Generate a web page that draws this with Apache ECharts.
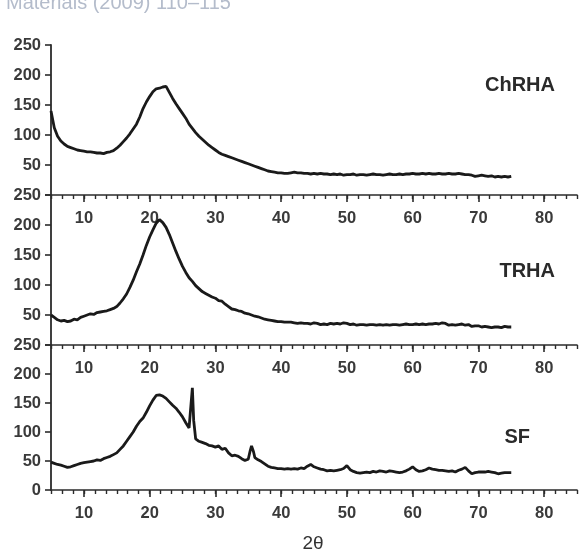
<!DOCTYPE html>
<html>
<head>
<meta charset="utf-8">
<script src="https://cdn.jsdelivr.net/npm/echarts@6/dist/echarts.min.js"></script>
<style>
html,body{margin:0;padding:0;background:#fff;}
#chart{width:580px;height:554px;}
</style>
</head>
<body>
<div id="chart"></div>
<script>
// ---- Data ----
var angleStd = [];
(function(){ for (var i = 0; i <= 140; i++) angleStd.push(5 + i * 0.5); })();

var chrhaCounts = [
140,112,98,90,85,81,79,77,75,74,73,72,72,71,70,70,69,71,72,74,
78,83,89,95,102,110,118,130,144,155,164,172,177,178,180,181,171,161,152,144,
136,128,118,111,104,98,93,88,83,79,75,71,68,66,64,62,60,58,56,54,
52,50,48,46,44,42,40,39,38,37,37,36,36,37,38,37,37,36,36,35,
36,35,36,35,35,34,35,34,35,33,34,34,35,33,34,34,33,34,35,34,
34,33,34,35,34,34,35,34,35,35,36,35,35,36,35,36,35,35,36,35,
35,36,35,35,36,35,34,34,33,31,32,33,32,31,32,30,31,30,31,30,
31
];

var trhaCounts = [
50,46,42,40,41,39,40,43,42,46,48,50,52,51,54,55,56,57,59,61,
64,70,77,85,96,108,122,135,150,166,180,192,203,209,204,196,184,170,156,143,
131,121,112,106,99,94,89,86,83,80,78,74,73,68,64,60,59,57,56,53,
52,50,48,47,45,43,42,41,40,39,39,38,38,38,37,36,37,36,36,35,
37,36,34,35,34,36,35,36,35,37,36,34,35,33,34,34,33,34,34,33,
34,33,34,33,34,34,33,34,35,34,34,35,34,35,34,35,35,36,35,37,
36,33,34,33,34,35,33,34,31,32,32,30,31,30,29,30,30,29,31,30,
30
];

var sfAngle = [
5,5.5,6,6.5,7,7.5,8,8.5,9,9.5,10,10.5,11,11.5,12,12.5,13,13.5,14,14.5,
15,15.5,16,16.5,17,17.5,18,18.5,19,19.5,20,20.5,21,21.5,22,22.5,23,23.5,24,24.5,
25,25.5,26,26.3,26.5,26.7,27,27.5,28,28.5,29,29.5,30,30.5,31,31.5,32,32.5,33,33.5,
34,34.5,35,35.3,35.5,35.8,36,36.5,37,37.5,38,38.5,39,39.5,40,40.5,41,41.5,42,42.5,
43,43.5,44,44.5,45,45.5,46,46.5,47,47.5,48,48.5,49,49.5,50,50.5,51,51.5,52,52.5,
53,53.5,54,54.5,55,55.5,56,56.5,57,57.5,58,58.5,59,59.5,60,60.5,61,61.5,62,62.5,
63,63.5,64,64.5,65,65.5,66,66.5,67,67.5,68,68.5,69,69.5,70,70.5,71,71.5,72,72.5,
73,73.5,74,74.5,75
];
var sfCounts = [
48,46,44,43,41,39,40,42,44,46,47,48,49,50,52,51,54,56,58,61,
64,70,76,84,92,100,110,118,124,134,145,155,163,164,162,158,152,146,141,134,
126,116,107,110,176,120,88,84,82,80,77,76,74,76,70,72,64,59,60,58,
54,51,53,68,76,66,56,52,49,45,41,39,38,37,37,36,37,36,37,36,
38,37,41,44,40,38,36,35,33,34,33,34,35,37,42,35,32,30,29,30,
31,30,32,31,33,32,31,33,32,31,30,31,33,36,40,35,32,33,35,38,
36,35,34,34,33,32,33,31,34,36,39,33,28,30,31,31,31,32,31,30,
28,29,30,30,30
];

var sampleNames = ['ChRHA', 'TRHA', 'SF'];
var xMajorTicks = [10, 20, 30, 40, 50, 60, 70, 80];
var xAxisTitle = '2\u03b8';
var headerText = 'Materials (2009) 110\u2013115';

function pairs(xs, ys) { return xs.map(function (x, i) { return [x, ys[i]]; }); }

// ---- Layout ----
var gridTops = [45, 195, 345];
var gridHeights = [150, 150, 151];
var inkColor = '#2b2b2b';
var fontFam = '"Liberation Sans", Arial, sans-serif';

var grids = [], xAxes = [], yAxes = [], series = [];
for (var g = 0; g < 3; g++) {
  grids.push({ left: 51, right: 2, top: gridTops[g], height: gridHeights[g] });
  xAxes.push({
    gridIndex: g, type: 'value', min: 5, max: 85, interval: 5, position: 'bottom',
    name: g === 2 ? xAxisTitle : '', nameLocation: 'middle', nameGap: 44,
    nameTextStyle: { fontFamily: fontFam, fontSize: 19, color: '#333', padding: [0, 0, 0, -2] },
    axisLine: { show: true, lineStyle: { color: inkColor, width: 1.6 } },
    axisTick: { show: true, inside: false, length: 4, lineStyle: { color: inkColor, width: 1.4 } },
    minorTick: { show: true, splitNumber: 3, length: 4, lineStyle: { color: inkColor, width: 1.4 } },
    splitLine: { show: false }, minorSplitLine: { show: false },
    axisLabel: {
      margin: 15, fontFamily: fontFam, fontSize: 16.5, fontWeight: 'bold', color: '#3a3a3a',
      formatter: function (v) { return (v % 10 === 0 && v >= 10 && v <= 80) ? String(v) : ''; }
    }
  });
  yAxes.push({
    gridIndex: g, type: 'value', min: 0, max: 250, interval: 50,
    axisLine: { show: true, lineStyle: { color: inkColor, width: 1.8 } },
    axisTick: { show: true, inside: false, length: 6, lineStyle: { color: inkColor, width: 1.6 } },
    splitLine: { show: false },
    axisLabel: {
      margin: 10, fontFamily: fontFam, fontSize: 16.5, fontWeight: 'bold', color: '#3a3a3a',
      formatter: (function (gi) { return function (v) { return (v === 0 && gi < 2) ? '' : String(v); }; })(g)
    }
  });
}
// overlay axes for longer major ticks at tens
for (var h = 0; h < 3; h++) {
  xAxes.push({
    gridIndex: h, type: 'value', min: 5, max: 85, interval: 5, position: 'bottom',
    axisLine: { show: false },
    axisTick: { show: true, inside: false, length: 7, customValues: xMajorTicks, lineStyle: { color: inkColor, width: 1.6 } },
    axisLabel: { show: false },
    splitLine: { show: false }
  });
}

var datasets = [pairs(angleStd, chrhaCounts), pairs(angleStd, trhaCounts), pairs(sfAngle, sfCounts)];
for (var s = 0; s < 3; s++) {
  series.push({
    name: sampleNames[s], type: 'line', xAxisIndex: s, yAxisIndex: s,
    data: datasets[s], showSymbol: false, smooth: false,
    lineStyle: { color: '#1a1a1a', width: 2.8 }, silent: true, animation: false
  });
}

var chart = echarts.init(document.getElementById('chart'), null, { renderer: 'canvas' });
chart.setOption({
  animation: false,
  backgroundColor: '#ffffff',
  grid: grids, xAxis: xAxes, yAxis: yAxes, series: series,
  graphic: [
    { type: 'text', left: 6, top: -7, style: { text: headerText, fontFamily: fontFam, fontSize: 20, fontWeight: 'normal', fill: '#b4bccb' } },
    { type: 'text', right: 25, top: 75, style: { text: sampleNames[0], fontFamily: fontFam, fontSize: 20, fontWeight: 'bold', fill: '#2a2a2a' } },
    { type: 'text', right: 25, top: 261, style: { text: sampleNames[1], fontFamily: fontFam, fontSize: 20, fontWeight: 'bold', fill: '#2a2a2a' } },
    { type: 'text', right: 50, top: 427, style: { text: sampleNames[2], fontFamily: fontFam, fontSize: 20, fontWeight: 'bold', fill: '#2a2a2a' } }
  ]
});
</script>
</body>
</html>
